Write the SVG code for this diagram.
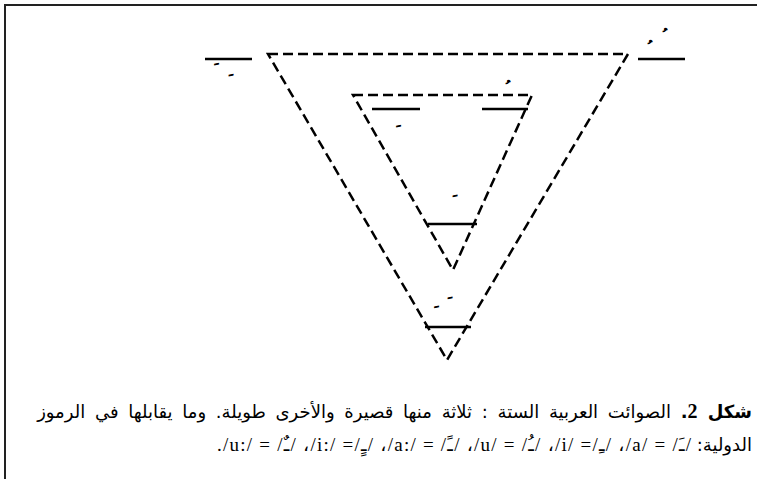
<svg xmlns="http://www.w3.org/2000/svg" width="764" height="482" viewBox="0 0 764 482">
<style>
.dash{fill:none;stroke:#000;stroke-width:2.5;stroke-dasharray:10 5}
.solid{stroke:#000;stroke-width:2.5}
.mark{font-family:"DejaVu Sans",sans-serif;font-size:14px;fill:#000;stroke:#000;stroke-width:0.9;text-anchor:middle}
.cap{font-family:"DejaVu Sans",sans-serif;font-size:18px;fill:#000}
.lat{font-family:"Liberation Serif","DejaVu Sans",serif;font-size:19px;fill:#000}
</style>
<rect width="764" height="482" fill="#fff"/>
<path d="M5,479 V5 H757" fill="none" stroke="#222" stroke-width="2"/>
<g id="outer-triangle">
<path class="dash" d="M268,54 H628 L447,360 Z"/>
</g>
<g id="inner-triangle">
<path class="dash" d="M353,95 H532 L453,270 Z"/>
</g>
<g id="connectors">
<line id="line-i-long" class="solid" x1="205" y1="59" x2="252" y2="59"/>
<line id="line-u-long" class="solid" x1="638" y1="59" x2="685" y2="59"/>
<line id="line-i" class="solid" x1="372" y1="109" x2="420" y2="109"/>
<line id="line-u" class="solid" x1="482" y1="109" x2="528" y2="109"/>
<line id="line-a" class="solid" x1="428" y1="224" x2="477" y2="224"/>
<line id="line-a-long" class="solid" x1="425" y1="327" x2="471" y2="327" stroke-width="3"/>
</g>
<g id="marks">
<text class="mark" x="216.5" y="63">ﹺ</text>
<text class="mark" x="231" y="73.5">ﹺ</text>
<text class="mark" x="650" y="52">ﹸ</text>
<text class="mark" x="665" y="40">ﹸ</text>
<text class="mark" x="508" y="92">ﹸ</text>
<text class="mark" x="398.5" y="125">ﹺ</text>
<text class="mark" x="455" y="204.5">ﹶ</text>
<text class="mark" x="436.5" y="316">ﹶ</text>
<text class="mark" x="450" y="306.5">ﹶ</text>
</g>
<g id="caption">
<text class="cap" x="752" y="418" direction="rtl" text-anchor="start" word-spacing="4"><tspan font-weight="bold">شكل </tspan><tspan font-weight="bold" font-family="Liberation Serif" font-size="20">2</tspan><tspan font-weight="bold">.</tspan> الصوائت العربية الستة : ثلاثة منها قصيرة والأخرى طويلة. وما يقابلها في الرموز</text>
<text class="cap" x="752" y="451" direction="rtl" text-anchor="start">الدولية:</text>
<text class="lat" x="217" y="451" direction="ltr" textLength="474" lengthAdjust="spacing">./u:/ = /ـٌ/ ،/i:/ =/ـٍ/ ،/a:/ = /ـً/ ،/u/ = /ـُ/ ،/i/ =/ـِ/ ،/a/ = /ـَ/</text>
</g>
</svg>
